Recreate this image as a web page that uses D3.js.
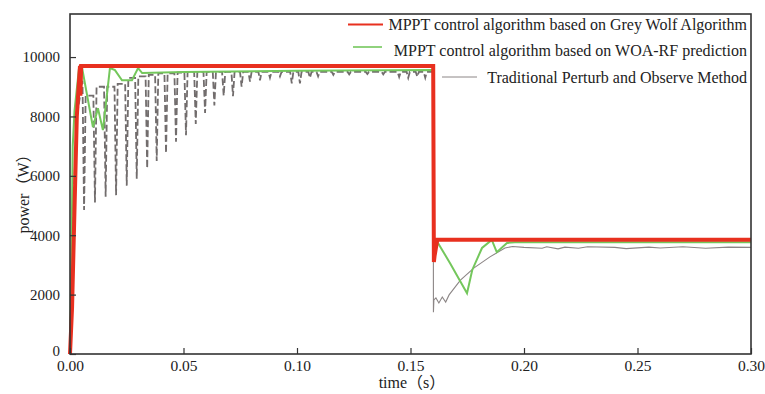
<!DOCTYPE html>
<html>
<head>
<meta charset="utf-8">
<script src="https://cdn.jsdelivr.net/npm/d3@7"></script>
<style>
  body { margin: 0; background: #fff; }
  svg { display: block; }
  text { font-family: "Liberation Serif", "Times New Roman", "Noto Sans CJK SC", serif; fill: #222; }
</style>
</head>
<body>
<svg width="765" height="394"></svg>
<script>
(function(d3) {
    'use strict';

    // ticks
    const xTicks = [0, 0.05, 0.10, 0.15, 0.20, 0.25, 0.30];
    const yTicks = [0, 2000, 4000, 6000, 8000, 10000];

    // Grey Wolf MPPT
    const gwoT = [0, 0.0009, 0.0030, 0.0044, 0.0046, 0.0049, 0.1600, 0.1603, 0.1606, 0.1618, 0.30];
    const gwoP = [0, 1550, 8000, 9700, 8700, 9700, 9700, 3100, 3300, 3850, 3850];

    // WOA-RF prediction MPPT
    const woaT = [0, 0.0006, 0.0012, 0.0020, 0.0040, 0.0053, 0.0101, 0.0123, 0.0145, 0.0176,
        0.0198, 0.0229, 0.0273, 0.0300, 0.0318, 0.0500, 0.1000, 0.1600, 0.1603, 0.1607,
        0.1621, 0.1675, 0.1749, 0.1772, 0.1815, 0.1858, 0.1880, 0.1925, 0.1960, 0.30];
    const woaP = [0, 3000, 7000, 8200, 9650, 9650, 7640, 8280, 7540, 9630,
        9560, 9220, 9220, 9630, 9460, 9500, 9540, 9560, 3450, 3800,
        3740, 3050, 2050, 2830, 3570, 3840, 3430, 3740, 3760, 3760];

    // Perturb and Observe: start-up, oscillation dips, recovery after step
    const poStartT = [0, 0.0015, 0.0030];
    const poStartP = [0, 5000, 8000];
    const poDipT = [0.0062, 0.0110, 0.0157, 0.0203, 0.0250, 0.0294, 0.0340, 0.0382, 0.0423, 0.0467,
        0.0511, 0.0554, 0.0595, 0.0636, 0.0677, 0.0718, 0.0756, 0.0793, 0.0837, 0.0881,
        0.0925, 0.0977, 0.1013, 0.1057, 0.1093, 0.1160, 0.1230, 0.1310, 0.1380, 0.1450,
        0.1490, 0.1530, 0.1565];
    const poDipP = [4850, 5100, 5300, 5350, 5670, 5900, 6250, 6500, 6760, 7150,
        7370, 7750, 8120, 8370, 8700, 8680, 9000, 9170, 9220, 9300,
        9350, 9110, 9110, 9300, 9350, 9400, 9420, 9430, 9420, 9330,
        9300, 9340, 9300];
    const poPeakP = [9200, 8700, 9000, 9000, 9100, 9300, 9350, 9400, 9450, 9450,
        9480, 9500, 9500, 9500, 9500, 9500, 9500, 9500, 9500, 9500,
        9500, 9500, 9500, 9500, 9500, 9500, 9500, 9500, 9500, 9500,
        9500, 9500, 9500, 9500];
    const poTailT = [0.1600, 0.1601, 0.1603, 0.1612, 0.1625, 0.1640, 0.1655, 0.1670, 0.1720, 0.1780,
        0.1850, 0.1916, 0.1950, 0.2000, 0.2080, 0.2100, 0.2150, 0.2180, 0.2240, 0.2280,
        0.2400, 0.2450, 0.2550, 0.2600, 0.2700, 0.2800, 0.2900, 0.30];
    const poTailP = [9500, 1410, 1820, 1890, 1720, 1920, 1750, 1990, 2490, 2900,
        3270, 3570, 3620, 3590, 3560, 3610, 3540, 3600, 3560, 3610,
        3590, 3550, 3600, 3570, 3610, 3560, 3600, 3590];

    const legendLabels = [
        'MPPT control algorithm based on Grey Wolf Algorithm',
        'MPPT control algorithm based on WOA-RF prediction',
        'Traditional Perturb and Observe Method'
    ];

    const svg = d3.select('svg');
    const left = 70, right = 751, top = 14, bottom = 354;

    const x = d3.scaleLinear().domain([0, 0.30]).range([left, right]);
    const y = d3.scaleLinear().domain([0, 11450]).range([bottom, top]);

    const zip = (ts, ps) => ts.map((t, i) => [t, ps[i]]);

    // build P&O oscillation path from the read dips/peaks
    const halfW = 0.0007;
    const po = zip(poStartT, poStartP);
    poDipT.forEach((t, i) => {
        po.push([t - halfW, poPeakP[i]]);
        po.push([t, poDipP[i]]);
        po.push([t + halfW, poPeakP[i + 1]]);
    });
    po.push([poTailT[0], poTailP[0]]);

    const line = d3.line().x(d => x(d[0])).y(d => y(d[1]));

    const plot = svg.append('g');
    plot.append('path')
        .attr('d', line(po))
        .attr('fill', 'none')
        .attr('stroke', '#726d6d')
        .attr('stroke-width', 1.8)
        .attr('stroke-dasharray', '7,3');
    plot.append('path')
        .attr('d', line(zip(poTailT, poTailP)))
        .attr('fill', 'none')
        .attr('stroke', '#8c8686')
        .attr('stroke-width', 1.1);
    plot.append('path')
        .attr('d', line(zip(woaT, woaP)))
        .attr('fill', 'none')
        .attr('stroke', '#74c75c')
        .attr('stroke-width', 2);
    plot.append('path')
        .attr('d', line(zip(gwoT, gwoP)))
        .attr('fill', 'none')
        .attr('stroke', '#e8301f')
        .attr('stroke-width', 4);

    // frame
    svg.append('rect')
        .attr('x', left).attr('y', top)
        .attr('width', right - left).attr('height', bottom - top)
        .attr('fill', 'none')
        .attr('stroke', '#333')
        .attr('stroke-width', 1.6);

    // axes with inward ticks
    const xAxis = svg.append('g')
        .attr('transform', `translate(0,${bottom})`)
        .call(d3.axisBottom(x).tickValues(xTicks).tickFormat(d3.format('.2f'))
            .tickSizeInner(-6).tickSizeOuter(0).tickPadding(6));
    xAxis.select('.domain').remove();
    xAxis.selectAll('line').attr('stroke', '#333').attr('stroke-width', 1.2);
    xAxis.selectAll('text').attr('font-size', 15.5).attr('fill', '#222');

    const yAxis = svg.append('g')
        .attr('transform', `translate(${left},0)`)
        .call(d3.axisLeft(y).tickValues(yTicks).tickFormat(d3.format('d'))
            .tickSizeInner(-6).tickSizeOuter(0).tickPadding(10));
    yAxis.select('.domain').remove();
    yAxis.selectAll('line').attr('stroke', '#333').attr('stroke-width', 1.2);
    yAxis.selectAll('text').attr('font-size', 15).attr('fill', '#222');
    yAxis.selectAll('.tick').filter(d => d === 0).select('text').attr('dy', '0.1em');

    svg.append('text')
        .attr('x', 412).attr('y', 388)
        .attr('text-anchor', 'middle')
        .attr('font-size', 16)
        .text('time（s）');

    svg.append('text')
        .attr('transform', 'translate(29,190) rotate(-90)')
        .attr('text-anchor', 'middle')
        .attr('font-size', 16)
        .text('power（W）');

    // legend
    const legendColors = ['#e8301f', '#74c75c', '#8c8686'];
    const legendWidths = [2.2, 1.6, 1];
    const legendY = [24.5, 47, 77];
    const legendX = [[348, 383], [353, 382], [442, 477]];
    const lg = svg.append('g');
    legendLabels.forEach((label, i) => {
        lg.append('line')
            .attr('x1', legendX[i][0]).attr('x2', legendX[i][1])
            .attr('y1', legendY[i]).attr('y2', legendY[i])
            .attr('stroke', legendColors[i])
            .attr('stroke-width', legendWidths[i]);
        lg.append('text')
            .attr('x', 747)
            .attr('y', legendY[i] + (i === 1 ? 3 : 0))
            .attr('dy', '0.35em')
            .attr('text-anchor', 'end')
            .attr('font-size', 16)
            .text(label);
    });
}(d3));
</script>
</body>
</html>
